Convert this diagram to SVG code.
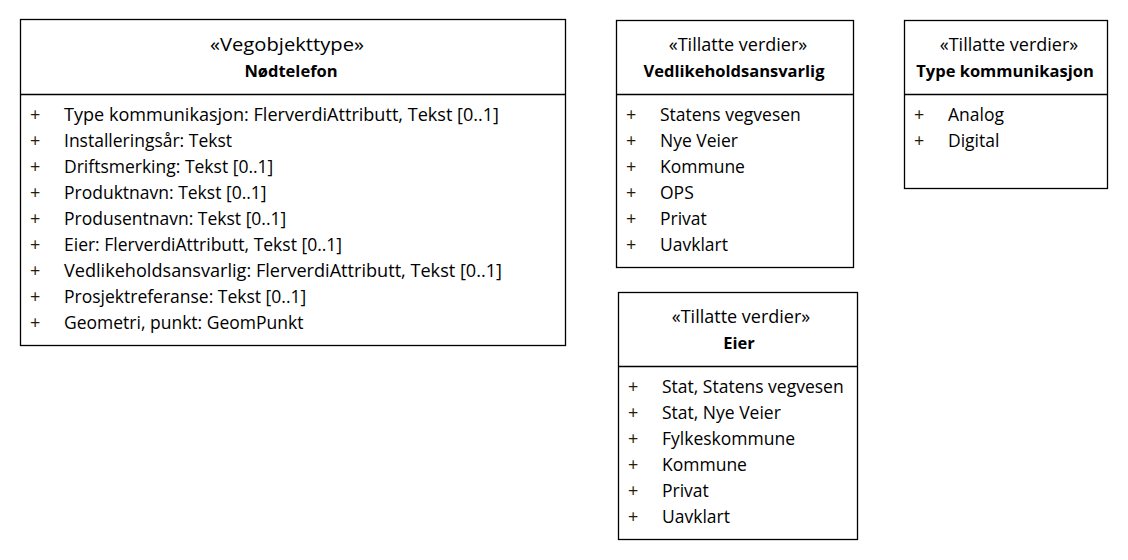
<svg xmlns="http://www.w3.org/2000/svg" width="1128" height="560" viewBox="0 0 1128 560">
<style>
.box{fill:#fff;stroke:#000;stroke-width:1.3}
.div{stroke:#000;stroke-width:1.3}
text{font-family:"Open Sans","Liberation Sans",sans-serif;font-size:17.5px;fill:#000}
.c{text-anchor:middle}
.s{font-size:18px}
.b{font-weight:bold;font-size:16.5px}
.p{fill:#2a1a00;font-size:18px}
</style>
<rect width="1128" height="560" fill="#fff"/>
<g id="node-nodtelefon">
<rect class="box" x="20.5" y="19.5" width="545" height="326"/>
<line class="div" x1="20.5" y1="94.5" x2="565.5" y2="94.5"/>
<text class="c s" x="287" y="51" textLength="154" lengthAdjust="spacingAndGlyphs">«Vegobjekttype»</text>
<text class="c b" x="291" y="77">Nødtelefon</text>
<g>
<text class="p" x="30" y="121">+</text><text x="64" y="121" textLength="435" lengthAdjust="spacingAndGlyphs">Type kommunikasjon: FlerverdiAttributt, Tekst [0..1]</text>
<text class="p" x="30" y="147">+</text><text x="64" y="147">Installeringsår: Tekst</text>
<text class="p" x="30" y="173">+</text><text x="64" y="173">Driftsmerking: Tekst [0..1]</text>
<text class="p" x="30" y="199">+</text><text x="64" y="199">Produktnavn: Tekst [0..1]</text>
<text class="p" x="30" y="225">+</text><text x="64" y="225">Produsentnavn: Tekst [0..1]</text>
<text class="p" x="30" y="251">+</text><text x="64" y="251">Eier: FlerverdiAttributt, Tekst [0..1]</text>
<text class="p" x="30" y="277">+</text><text x="64" y="277" textLength="438" lengthAdjust="spacingAndGlyphs">Vedlikeholdsansvarlig: FlerverdiAttributt, Tekst [0..1]</text>
<text class="p" x="30" y="303">+</text><text x="64" y="303">Prosjektreferanse: Tekst [0..1]</text>
<text class="p" x="30" y="329">+</text><text x="64" y="329">Geometri, punkt: GeomPunkt</text>
</g>
</g>
<g id="node-vedlikeholdsansvarlig">
<rect class="box" x="616.5" y="20.5" width="237" height="247"/>
<line class="div" x1="616.5" y1="94.5" x2="853.5" y2="94.5"/>
<text class="c s" x="738" y="51">«Tillatte verdier»</text>
<text class="c b" x="734" y="77">Vedlikeholdsansvarlig</text>
<text class="p" x="626" y="121">+</text><text x="660" y="121">Statens vegvesen</text>
<text class="p" x="626" y="147">+</text><text x="660" y="147">Nye Veier</text>
<text class="p" x="626" y="173">+</text><text x="660" y="173">Kommune</text>
<text class="p" x="626" y="199">+</text><text x="660" y="199">OPS</text>
<text class="p" x="626" y="225">+</text><text x="660" y="225">Privat</text>
<text class="p" x="626" y="251">+</text><text x="660" y="251">Uavklart</text>
</g>
<g id="node-typekommunikasjon">
<rect class="box" x="904.5" y="20.5" width="203" height="168"/>
<line class="div" x1="904.5" y1="94.5" x2="1107.5" y2="94.5"/>
<text class="c s" x="1009" y="51">«Tillatte verdier»</text>
<text class="c b" x="1005" y="77">Type kommunikasjon</text>
<text class="p" x="914" y="121">+</text><text x="948" y="121">Analog</text>
<text class="p" x="914" y="147">+</text><text x="948" y="147">Digital</text>
</g>
<g id="node-eier">
<rect class="box" x="618.5" y="292.5" width="239" height="247"/>
<line class="div" x1="618.5" y1="366.5" x2="857.5" y2="366.5"/>
<text class="c s" x="741" y="323">«Tillatte verdier»</text>
<text class="c b" x="739" y="349">Eier</text>
<text class="p" x="628" y="393">+</text><text x="662" y="393">Stat, Statens vegvesen</text>
<text class="p" x="628" y="419">+</text><text x="662" y="419">Stat, Nye Veier</text>
<text class="p" x="628" y="445">+</text><text x="662" y="445">Fylkeskommune</text>
<text class="p" x="628" y="471">+</text><text x="662" y="471">Kommune</text>
<text class="p" x="628" y="497">+</text><text x="662" y="497">Privat</text>
<text class="p" x="628" y="523">+</text><text x="662" y="523">Uavklart</text>
</g>
<g id="connectors"></g>
</svg>
